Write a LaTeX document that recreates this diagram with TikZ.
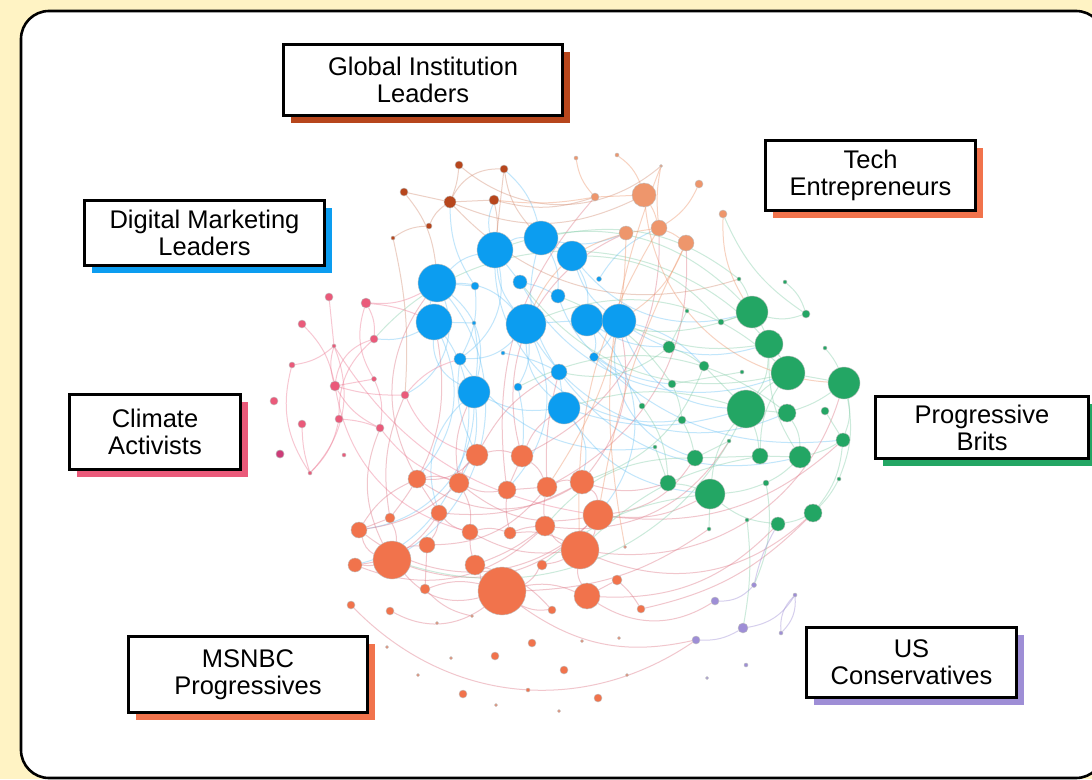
\documentclass[tikz,border=0pt]{standalone}
\usepackage{fontspec}
\setmainfont{Liberation Sans}
\usetikzlibrary{shadows}

\definecolor{paper}{RGB}{255,243,196}
\definecolor{bluec}{RGB}{12,157,240}
\definecolor{rustc}{RGB}{183,70,28}
\definecolor{techc}{RGB}{238,150,108}
\definecolor{greenc}{RGB}{35,166,100}
\definecolor{pinkc}{RGB}{234,90,122}
\definecolor{coralc}{RGB}{241,115,76}
\definecolor{purplec}{RGB}{158,142,214}
\definecolor{magc}{RGB}{205,60,120}
\definecolor{redlink}{RGB}{222,120,135}

\pgfdeclarelayer{panel}
\pgfdeclarelayer{links}
\pgfsetlayers{panel,links,main}

\begin{document}
\begin{tikzpicture}[x=1pt, y=-1pt,
  dot/.style={circle, inner sep=0pt, draw=black!25, line width=0.4pt},
  link/.style={line width=1pt, draw opacity=0.42},
  tag/.style={draw, line width=2.6pt, fill=white, align=center, inner sep=0pt,
    font=\fontsize{25.5}{27}\selectfont},
  shade/.style={drop shadow={shadow xshift=7pt, shadow yshift=-7pt, fill=#1, opacity=1}}
]
\useasboundingbox (0,0) rectangle (1092,779);

\begin{pgfonlayer}{panel}
  \fill[paper] (0,0) rectangle (1092,779);
  \draw[line width=2.6pt, fill=white, rounded corners=28pt] (21,11) rectangle (1104,778);
\end{pgfonlayer}

% communities
\foreach \x/\y/\r [count=\i] in {437/283/19, 495/250/18, 541/238/17, 572/256/15,
  434/322/18, 526/324/20, 587/320/16, 619/321/17, 475/286/4, 520/282/7,
  558/296/7, 599/279/2.5, 474/323/2, 460/359/6, 503/353/2, 594/357/4.5,
  559/372/8, 474/392/16, 518/387/4, 564/408/16}
  \node[dot, fill=bluec, minimum size=\r*2pt] (b\i) at (\x,\y) {};

\foreach \x/\y/\r [count=\i] in {459/165/4, 504/169/4, 404/192/4, 450/202/6,
  494/200/5, 429/226/3, 393/238/2}
  \node[dot, fill=rustc, minimum size=\r*2pt] (r\i) at (\x,\y) {};

\foreach \x/\y/\r [count=\i] in {644/195/12, 595/197/4, 699/184/4, 723/214/4,
  626/233/7, 659/228/8, 686/243/8, 576/158/2, 617/155/2, 661/166/1.5}
  \node[dot, fill=techc, minimum size=\r*2pt] (t\i) at (\x,\y) {};

\foreach \x/\y/\r [count=\i] in {752/312/16, 769/344/14, 788/373/17, 844/383/16,
  746/409/19, 787/413/9, 669/347/6, 704/366/5, 672/384/4, 642/406/3,
  682/420/4, 721/322/3, 687/311/2, 739/279/2, 785/282/2, 806/314/4,
  825/348/2, 742/372/2, 825/411/4, 843/440/7, 695/458/8, 760/456/8,
  800/457/11, 668/483/8, 710/494/15, 729/441/2, 655/447/2, 766/483/3,
  839/479/2, 813/513/9, 778/524/7, 747/520/2, 709/529/2}
  \node[dot, fill=greenc, minimum size=\r*2pt] (g\i) at (\x,\y) {};

\foreach \x/\y/\r [count=\i] in {329/297/4, 366/303/5, 302/324/4, 374/339/4,
  334/346/2, 292/365/3, 335/386/5, 374/379/2.5, 405/395/4, 274/401/4,
  339/419/4, 302/424/4, 380/428/4, 280/454/4, 344/455/2, 310/473/2}
  \node[dot, fill=pinkc, minimum size=\r*2pt] (p\i) at (\x,\y) {};
\node[dot, fill=magc, minimum size=8pt] at (p14) {};

\foreach \x/\y/\r [count=\i] in {477/455/11, 522/456/11, 417/479/9, 459/483/10,
  507/490/9, 547/487/10, 582/482/12, 439/513/8, 390/518/5, 359/530/8,
  470/532/8, 510/533/6, 545/526/10, 598/515/15, 580/550/19, 392/560/19,
  427/545/8, 355/565/7, 475/565/10, 542/565/5, 502/591/24, 425/589/5,
  587/596/13, 617/580/5, 625/547/1.5, 351/605/4, 390/611/4, 552/610/4,
  641/609/4, 437/623/1.5, 472/616/1.5, 532/643/4, 495/656/4, 387/647/1.5,
  451/658/1.5, 582/641/1.5, 619/638/1.5, 564/670/4, 418/675/1.5, 627/675/1.5,
  463/694/4, 528/690/2, 598/698/4, 496/705/1.5, 559/711/1.5}
  \node[dot, fill=coralc, minimum size=\r*2pt] (m\i) at (\x,\y) {};

\foreach \x/\y/\r [count=\i] in {754/585/2.5, 715/601/4, 795/595/2, 743/628/5,
  696/640/4, 781/633/2, 746/665/2, 707/678/1.5}
  \node[dot, fill=purplec, minimum size=\r*2pt] (u\i) at (\x,\y) {};

% links
\begin{pgfonlayer}{links}
\foreach \s/\t/\a in {b1/b2/10, b1/b5/-10, b1/b6/15, b1/b18/20, b1/b9/0,
  b2/b3/10, b2/b6/-10, b2/b10/0, b2/r5/10, b2/b14/20, b3/b4/0, b3/b17/-15,
  b3/b11/10, b3/t5/-10, b4/b7/10, b4/b8/-10, b4/g1/-20, b5/b13/0, b5/b18/-20,
  b5/m3/20, b5/p4/10, b6/b7/0, b6/b19/10, b6/b20/-15, b6/b14/15, b6/m5/20,
  b7/b8/0, b7/g7/-10, b7/b16/10, b8/g5/-20, b8/g2/-15, b8/g8/10, b8/g21/-25,
  b9/b14/10, b10/b11/5, b12/t6/10, b13/b18/5, b14/m1/-10, b15/b17/5,
  b16/g10/10, b17/b20/0, b17/g23/-20, b18/m4/10, b18/m10/25, b18/b20/-10,
  b19/m2/5, b20/m7/15, b20/g5/-10, b20/g25/-15, b11/g9/-20, b10/g3/-25,
  b2/g11/-30, b1/m16/30, b5/m18/35, b6/g6/-25, b9/r4/10, b3/r2/-10,
  b8/b16/5, b7/m14/25, b18/m8/-20, b14/g27/-20, b16/g20/-15, b1/p9/25}
  {\pgfmathsetmacro\bend{1.6*\a}
   \draw[link, bluec!60] (\s) to[bend left=\bend] (\t);}

\foreach \s/\t/\a in {m1/m2/10, m1/m4/-10, m1/m3/15, m2/m5/0, m2/m6/10,
  m3/m4/10, m3/m8/0, m4/m5/-10, m4/m11/10, m5/m6/0, m5/m12/-5, m6/m7/10,
  m6/m13/-5, m7/m14/15, m7/g24/-10, m8/m11/-10, m8/m17/10, m9/m10/0,
  m9/m16/10, m10/m16/-15, m11/m12/10, m11/m19/-5, m12/m13/5, m13/m15/-10,
  m14/m15/10, m14/g21/-15, m14/g25/-10, m15/m23/-10, m15/m20/5, m16/m17/10,
  m16/m21/-20, m16/m18/5, m17/m22/0, m19/m21/-10, m20/m21/10, m21/m23/10,
  m21/m28/-10, m21/m27/20, m23/m24/0, m23/g31/-15, m24/m29/5, m15/g30/-20,
  m21/u5/-15, m23/u2/-20, m10/m14/-25, m3/m7/-20, m4/m14/-15, m1/b17/10,
  m2/b20/10, m7/b8/-15, m6/t7/-20, m5/t2/15, m3/b1/20, m16/p13/15, m9/p9/10,
  m21/g33/-10, m14/g20/-15, m15/g4/-25, m18/m8/-15, m10/m4/-10, m2/t5/25,
  m13/g26/-20, m22/m31/-10, m19/m28/10, m26/u5/-25, m11/m15/-10, m17/m6/-15,
  m22/m21/10, m12/m15/10, m19/m13/-5, m8/m7/-10, m16/m14/-20, m10/m3/10,
  m18/m13/-20, m29/g30/-10, m9/b5/-15, m4/b18/10, m6/b17/5, m2/t6/-20}
  {\pgfmathsetmacro\bend{1.6*\a}
   \draw[link, redlink] (\s) to[bend left=\bend] (\t);}

\foreach \s/\t/\a in {g1/g2/5, g2/g3/5, g3/g4/0, g1/g12/0, g1/g16/-10,
  g2/g5/10, g3/g5/-5, g5/g6/0, g4/g6/5, g5/g8/0, g5/g25/-10, g6/g23/10,
  g20/g23/5, g20/g30/10, g22/g23/0, g21/g22/0, g24/g25/5, g25/g28/-5,
  g25/g31/-10, g30/g31/5, g7/g8/5, g9/g11/5, g11/g21/5, g10/g24/10,
  g5/g22/5, g13/g7/0, g14/g1/5, g15/g16/10, g17/g4/5, g19/g20/0,
  g3/g22/-10, g4/g20/10, g1/b7/10, g2/b8/10, g5/b20/-10, g3/b6/-20,
  g7/b17/15, g8/m7/15, g21/m13/-15, g25/m20/-10, g22/m15/-10, g9/b11/-10,
  g12/b4/-15, g6/b19/-20, g28/u1/10, g32/u4/5, g18/g9/0, g26/g21/0,
  g27/g24/0, g29/g30/5, g33/g25/0, g23/g28/5, g4/g29/10, g1/b2/-20,
  g2/p4/-30, g5/m16/25, g3/b10/20, g16/t4/10, g14/b3/-15, g23/g2/10}
  {\pgfmathsetmacro\bend{1.6*\a}
   \draw[link, greenc!55] (\s) to[bend left=\bend] (\t);}

\foreach \s/\t/\a in {p2/p4/10, p1/p5/0, p5/p6/10, p5/p7/-10, p5/p16/20,
  p6/p16/-15, p7/p8/0, p7/p9/-5, p8/p2/15, p4/p7/-20, p8/p13/10, p3/p7/10,
  p7/p13/-10, p11/p16/10, p12/p16/-5, p4/p11/-15, p2/b1/-10, p9/m1/-15,
  p13/m4/-10, p7/m11/-20, p9/b14/10, p11/p13/5, p2/b5/5, p5/m14/-15}
  {\pgfmathsetmacro\bend{1.6*\a}
   \draw[link, pinkc!80] (\s) to[bend left=\bend] (\t);}

\foreach \s/\t/\a in {r7/r6/10, r6/r4/10, r4/r2/20, r3/r4/0, r4/r5/0,
  r2/b2/0, r2/b3/-10, r5/b2/5, r4/t1/-15, r1/r4/5, r7/p9/5, r5/t2/-10,
  r4/g14/-20, r1/t10/-25, r3/b1/10}
  {\pgfmathsetmacro\bend{1.6*\a}
   \draw[link, rustc!60] (\s) to[bend left=\bend] (\t);}

\foreach \s/\t/\a in {t1/t2/0, t1/t6/5, t6/t7/5, t5/t6/0, t2/t8/10,
  t10/t6/-5, t5/b6/-15, t6/m15/-10, t7/b8/10, t4/g1/-10, t3/t6/10,
  t1/g4/-25, t9/t1/10, t7/m14/-5, t5/m6/10, t10/m25/-10, t2/r5/5}
  {\pgfmathsetmacro\bend{1.6*\a}
   \draw[link, techc] (\s) to[bend left=\bend] (\t);}

\foreach \s/\t/\a in {u2/u1/-15, u5/u4/-10, u4/u3/-15, u3/u6/15, u6/u3/15,
  u1/g31/5}
  {\pgfmathsetmacro\bend{1.6*\a}
   \draw[link, purplec] (\s) to[bend left=\bend] (\t);}
\end{pgfonlayer}

% labels
\node[tag, shade=rustc, minimum width=279pt, minimum height=71pt] (gil) at (423,80)
  {Global Institution\\Leaders};
\node[tag, shade=bluec, minimum width=240pt, minimum height=65pt] (dml) at (204.5,233)
  {Digital Marketing\\Leaders};
\node[tag, shade=coralc, minimum width=210pt, minimum height=70pt] (ten) at (870.5,175.5)
  {Tech\\Entrepreneurs};
\node[tag, shade=pinkc, minimum width=171pt, minimum height=75pt] (cla) at (155,432)
  {Climate\\Activists};
\node[tag, shade=greenc, minimum width=213pt, minimum height=62pt] (prb) at (982,427.5)
  {Progressive\\Brits};
\node[tag, shade=coralc, minimum width=239pt, minimum height=76pt] (msn) at (248,674.5)
  {MSNBC\\Progressives};
\node[tag, shade=purplec, minimum width=210pt, minimum height=70pt] (usc) at (911.5,662.5)
  {US\\Conservatives};
\end{tikzpicture}
\end{document}
